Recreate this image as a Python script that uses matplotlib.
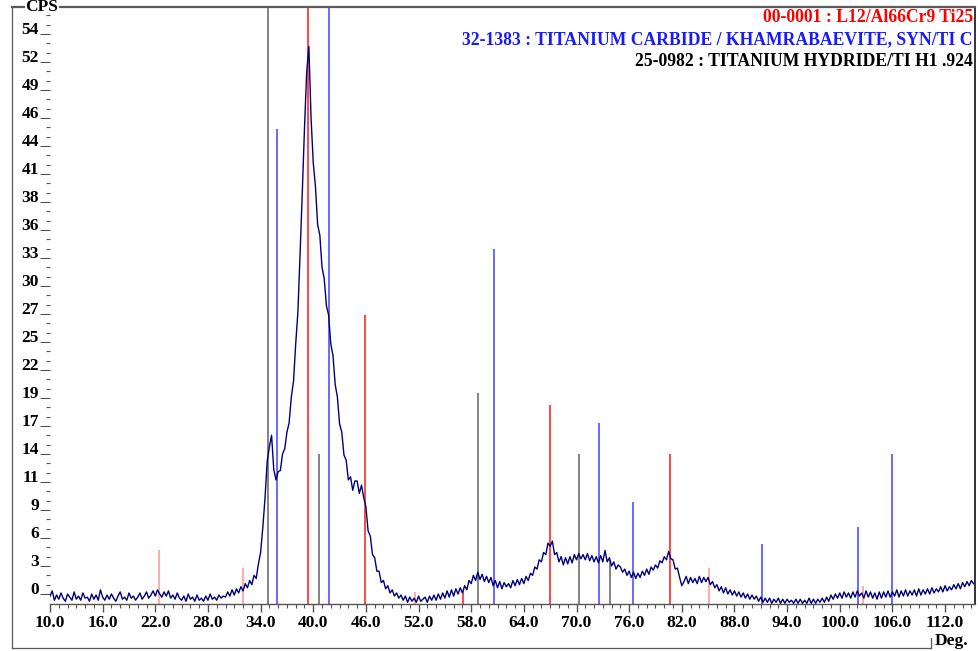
import numpy as np
import matplotlib
matplotlib.use("Agg")
import matplotlib.pyplot as plt
from matplotlib.lines import Line2D

# ---------------- data ----------------
scan_start = 10.0
scan_step = 0.25
cps = [
    # 10.0 - 14.75
    -0.2, 0.3, -0.6, -0.1, -0.5, 0.1, -0.4, -0.7, 0.0, -0.3, -0.6, 0.2, -0.5, -0.2, -0.6, 0.1, -0.4, -0.3, -0.7, 0.0,
    # 15.0 - 19.75
    -0.5, -0.1, -0.6, 0.4, -0.3, -0.6, -0.1, -0.5, 0.0, -0.4, -0.7, -0.2, 0.2, -0.5, -0.3, -0.6, 0.1, -0.4, -0.2, -0.6,
    # 20.0 - 24.75
    -0.3, 0.1, -0.5, -0.2, 0.2, -0.4, -0.1, 0.3, -0.2, 0.4, 0.0, -0.3, 0.2, -0.2, 0.3, -0.4, -0.1, -0.5, 0.1, -0.4,
    # 25.0 - 29.75
    -0.6, -0.2, -0.7, 0.0, -0.5, -0.3, -0.7, -0.1, -0.6, -0.4, -0.7, -0.2, -0.6, 0.0, -0.5, -0.3, -0.6, -0.1, -0.4, -0.2,
    # 30.0 - 34.75
    -0.3, 0.2, -0.2, 0.4, -0.1, 0.5, 0.1, 0.7, 0.3, 1.0, 0.6, 1.3, 0.9, 1.8, 1.5, 2.9, 4.0, 6.4, 9.2, 12.8,
    # 35.0 - 39.75
    14.2, 15.3, 12.0, 11.0, 11.8, 11.9, 13.5, 14.0, 15.6, 16.5, 19.0, 20.5, 24.1, 27.2, 32.8, 38.7, 44.9, 50.3, 52.8, 45.9,
    # 40.0 - 44.75
    41.6, 39.3, 35.6, 34.6, 31.5, 30.4, 27.8, 26.9, 24.1, 23.0, 20.2, 19.0, 16.4, 15.6, 13.4, 12.9, 11.0, 11.3, 10.0, 10.9,
    # 45.0 - 49.75
    10.9, 9.7, 10.5, 9.3, 8.4, 6.1, 5.6, 3.8, 3.5, 2.2, 2.2, 1.1, 1.3, 0.5, 0.8, 0.1, 0.4, -0.2, 0.1, -0.4,
    # 50.0 - 54.75
    -0.1, -0.6, -0.2, -0.8, -0.3, -0.7, -0.4, -0.8, -0.2, -0.7, -0.5, -0.3, -0.8, -0.2, -0.6, -0.1, -0.6, 0.0, -0.5, 0.1,
    # 55.0 - 59.75
    -0.4, 0.3, -0.3, 0.4, -0.2, 0.5, 0.0, 0.6, 0.1, 0.8, 0.4, 1.3, 1.0, 1.8, 1.3, 2.1, 1.4, 1.9, 1.2, 1.7,
    # 60.0 - 64.75
    1.1, 1.6, 0.8, 1.3, 0.6, 1.2, 0.5, 1.1, 0.7, 1.0, 0.6, 1.3, 0.8, 1.4, 0.9, 1.5, 1.0, 1.7, 1.3, 2.0,
    # 65.0 - 69.75
    1.8, 2.6, 2.4, 3.3, 3.1, 4.0, 3.8, 4.9, 4.6, 5.1, 3.8, 4.0, 3.1, 3.6, 2.8, 3.5, 2.9, 3.6, 3.0, 3.8,
    # 70.0 - 74.75
    3.3, 3.9, 3.4, 3.8, 3.3, 3.9, 3.2, 3.7, 3.1, 3.6, 3.0, 3.7, 3.1, 4.2, 3.1, 3.5, 2.7, 3.1, 2.4, 2.8,
    # 75.0 - 79.75
    2.6, 2.1, 2.4, 1.8, 2.2, 1.6, 2.1, 1.5, 2.0, 1.6, 2.2, 1.8, 2.4, 1.9, 2.6, 2.3, 2.8, 2.5, 3.2, 3.0,
    # 80.0 - 84.75
    3.6, 3.3, 4.1, 3.4, 3.3, 2.4, 2.5, 1.6, 0.8, 1.2, 1.7, 1.0, 1.6, 1.1, 1.5, 1.0, 1.7, 1.1, 1.6, 1.2,
    # 85.0 - 89.75
    1.6, 0.9, 1.2, 0.6, 0.9, 0.3, 0.7, 0.1, 0.6, 0.0, 0.4, -0.1, 0.3, -0.2, 0.2, -0.3, 0.1, -0.4, 0.0, -0.5,
    # 90.0 - 94.75
    -0.1, -0.5, -0.2, -0.7, -0.3, -0.8, -0.4, -0.8, -0.4, -0.9, -0.5, -0.8, -0.4, -0.9, -0.5, -0.9, -0.5, -0.8, -0.6, -0.9,
    # 95.0 - 99.75
    -0.5, -0.9, -0.5, -0.9, -0.6, -0.9, -0.4, -0.9, -0.5, -0.9, -0.5, -0.8, -0.4, -0.8, -0.3, -0.7, -0.1, -0.5, 0.0, -0.4,
    # 100.0 - 104.75
    0.1, -0.4, 0.2, -0.3, 0.1, -0.4, 0.2, -0.3, 0.3, -0.2, 0.1, -0.4, 0.3, -0.3, 0.2, -0.4, 0.1, -0.5, 0.2, -0.4,
    # 105.0 - 109.75
    0.2, -0.3, 0.3, -0.3, 0.2, -0.2, 0.4, -0.3, 0.3, -0.2, 0.4, -0.2, 0.3, -0.1, 0.4, -0.2, 0.5, -0.1, 0.4, 0.0,
    # 110.0 - 114.75
    0.5, 0.0, 0.6, 0.1, 0.5, 0.2, 0.7, 0.2, 0.8, 0.3, 0.7, 0.4, 0.9, 0.5, 1.0, 0.5, 1.1, 0.7, 1.2, 0.8,
    # 115.0 - 115.25
    1.3, 1.0,
]

# reference stick patterns (2-theta, height in CPS units; 60 = off-scale)
l12_pos = [22.4, 32.0, 39.4, 45.9, 51.65, 57.1, 67.0, 80.7, 85.1, 102.6]
l12_int = [4.2, 2.5, 60.0, 26.9, 0.2, 0.3, 18.2, 13.5, 2.5, 0.8]
tic_pos = [35.9, 41.8, 60.6, 72.6, 76.4, 91.1, 102.1, 105.9]
tic_int = [44.8, 60.0, 33.3, 16.5, 8.9, 4.8, 6.5, 13.5]
tih_pos = [34.85, 40.6, 58.8, 70.25, 73.85]
tih_int = [60.0, 13.5, 19.4, 13.5, 3.3]

y_tick_labels = ["0", "3", "6", "9", "11", "14", "17", "19", "22", "25", "27",
                 "30", "33", "36", "38", "41", "44", "46", "49", "52", "54"]
x_tick_values = [10, 16, 22, 28, 34, 40, 46, 52, 58, 64, 70, 76, 82, 88, 94, 100, 106, 112]

legend_lines = ["00-0001 : L12/Al66Cr9 Ti25",
                "32-1383 : TITANIUM CARBIDE / KHAMRABAEVITE, SYN/TI C",
                "25-0982 : TITANIUM HYDRIDE/TI H1 .924"]

# ---------------- styles ----------------
l12_colors = ["#ff9c9c", "#ff9c9c", "#ff2a2a", "#ff2a2a", "#ff9c9c",
              "#ff2a2a", "#ff2a2a", "#ff2a2a", "#ff9c9c", "#ff9c9c"]
tic_color = "#5050ff"
tih_color = "#6e6e6e"
curve_color = "#00007a"
legend_colors = ["#ff0000", "#1a1aff", "#000000"]

W, H = 979, 651
fig = plt.figure(figsize=(W / 100, H / 100), dpi=100)
fig.patch.set_facecolor("white")

def fx(px):
    return px / W

def fy(py):
    return 1 - py / H

ax_l, ax_r, ax_t, ax_b = 50, 975, 7, 604
ax = fig.add_axes([fx(ax_l), fy(ax_b), (ax_r - ax_l) / W, (ax_b - ax_t) / H])

ystep = 2.7
y_bottom = -10 / 28 * ystep
y_top = 20 * ystep + 27 / 28 * ystep
x_max = 10 + (ax_r - ax_l) / 8.775

two_theta = scan_start + scan_step * np.arange(len(cps))

ax.vlines(l12_pos, y_bottom, l12_int, colors=l12_colors, lw=1.2, zorder=1)
ax.vlines(tic_pos, y_bottom, tic_int, colors=tic_color, lw=1.2, zorder=1)
ax.vlines(tih_pos, y_bottom, tih_int, colors=tih_color, lw=1.2, zorder=1)
ax.plot(two_theta, cps, color=curve_color, lw=1.0, zorder=2)

ax.set_xlim(10, x_max)
ax.set_ylim(y_bottom, y_top)

serif = ["Liberation Serif", "DejaVu Serif"]
tick_fs = 12.5

# y ticks
ax.set_yticks(np.arange(len(y_tick_labels)) * ystep)
ax.set_yticklabels(y_tick_labels, fontfamily=serif, fontweight="bold", fontsize=tick_fs)
ax.set_yticks(np.arange(0, y_top, ystep / 3), minor=True)
for lbl in ax.get_yticklabels():
    lbl.set_verticalalignment("baseline")

# x ticks
ax.set_xticks(x_tick_values)
ax.set_xticklabels([f"{v:.1f}" for v in x_tick_values], fontfamily=serif,
                   fontweight="bold", fontsize=tick_fs)
ax.set_xticks(np.arange(10, x_max, 1), minor=True)

ax.tick_params(axis="x", which="major", length=6, width=1, color="#555555", pad=2)
ax.tick_params(axis="x", which="minor", length=3, width=0.8, color="#555555")
ax.tick_params(axis="y", which="major", length=7, width=0.8, color="#555555", pad=1)
ax.tick_params(axis="y", which="minor", length=3, width=0.8, color="#555555")

ax.spines["left"].set_visible(False)
ax.spines["top"].set_visible(False)
ax.spines["bottom"].set_color("#555555")
ax.spines["bottom"].set_linewidth(1.0)
ax.spines["right"].set_color("#111111")
ax.spines["right"].set_linewidth(1.2)

# outer frame
fig.add_artist(Line2D([fx(12), fx(975)], [fy(7), fy(7)], color="#5a5a5a", lw=1.6))
fig.add_artist(Line2D([fx(12), fx(12)], [fy(7), fy(648)], color="#5a5a5a", lw=0.9))
fig.add_artist(Line2D([fx(12), fx(931)], [fy(648), fy(648)], color="#5a5a5a", lw=0.9))
fig.add_artist(Line2D([fx(931), fx(931)], [fy(638), fy(648)], color="#5a5a5a", lw=0.9))

fig.text(fx(42), fy(7), "CPS", ha="center", va="center", fontfamily=serif,
         fontweight="bold", fontsize=tick_fs,
         bbox=dict(facecolor="white", edgecolor="none", pad=0.3))
fig.text(fx(952), fy(641), "Deg.", ha="center", va="center", fontfamily=serif,
         fontweight="bold", fontsize=tick_fs)

for i, (txt, col) in enumerate(zip(legend_lines, legend_colors)):
    fig.text(fx(973), fy(18 + 21.5 * i), txt, ha="right", va="center",
             fontfamily=serif, fontweight="bold", fontsize=12.7, color=col)

fig.savefig("out.png", dpi=100, facecolor="white")
